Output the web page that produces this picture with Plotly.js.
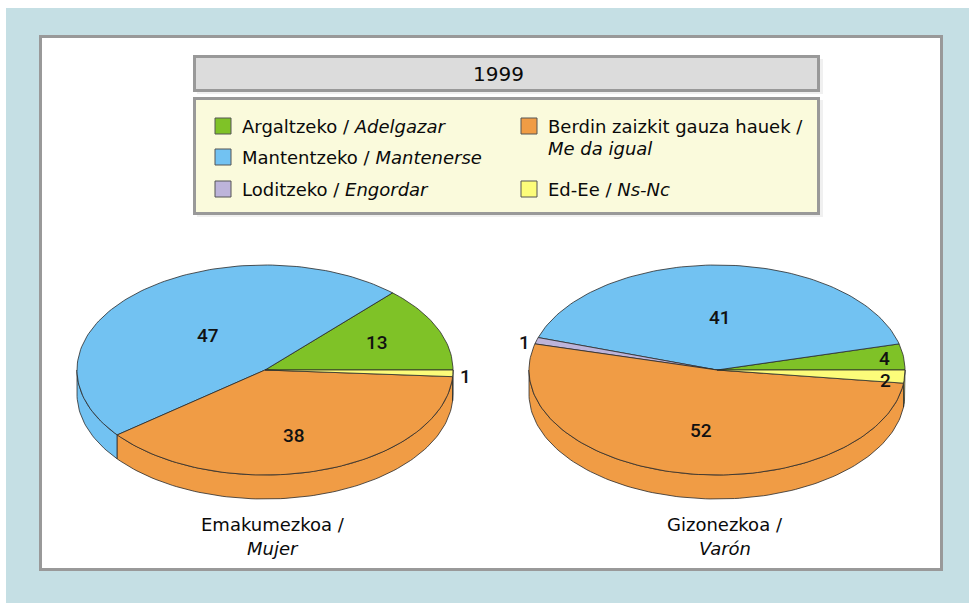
<!DOCTYPE html>
<html><head><meta charset="utf-8">
<script src="https://cdn.plot.ly/plotly-3.0.1.min.js"></script>
<style>html,body{margin:0;padding:0;background:#fff;}#chart{width:969px;height:603px;}</style>
</head><body><div id="chart"></div>
<script>
// ---------- DATA ----------
const chartTitle = '1999';
const categories = ['Argaltzeko / <i>Adelgazar</i>', 'Mantentzeko / <i>Mantenerse</i>', 'Loditzeko / <i>Engordar</i>', 'Berdin zaizkit gauza hauek /<br><i>Me da igual</i>', 'Ed-Ee / <i>Ns-Nc</i>'];
const mujerValues = [13, 47, 0, 38, 1];
const varonValues = [4, 41, 1, 52, 2];
const pieTitles = ['Emakumezkoa /<br><i>Mujer</i>', 'Gizonezkoa /<br><i>Varón</i>'];

// ---------- STYLE / LAYOUT ----------
const colors = ['#7fc227', '#72c2f2', '#bdb4da', '#f09c45', '#fcfc7a'];
const W = 969, H = 603;
const FONT = 'DejaVu Sans, sans-serif';
const pies = [
  {values: mujerValues, cx: 265, cy: 370, title: pieTitles[0]},
  {values: varonValues, cx: 717, cy: 370, title: pieTitles[1]}
];
const RX = 188, RY = 105, DEPTH = 24;
const legendSlots = [[215,126],[215,157],[215,189],[521,126],[521,189]];

const traces = [];
const annotations = [];
const shapes = [];

// backgrounds
shapes.push({type:'rect', xref:'x', yref:'y', x0:6, x1:W, y0:8, y1:H, fillcolor:'#c5dfe4', line:{width:0}, layer:'below'});
shapes.push({type:'rect', xref:'x', yref:'y', x0:40.5, x1:941.5, y0:36.5, y1:569.5, fillcolor:'#ffffff', line:{color:'#999999', width:3}, layer:'below'});
// title box (with soft shadow)
shapes.push({type:'rect', xref:'x', yref:'y', x0:197, x1:823, y0:59, y1:94, fillcolor:'rgba(0,0,0,0.06)', line:{width:0}, layer:'below'});
shapes.push({type:'rect', xref:'x', yref:'y', x0:194.5, x1:818.5, y0:56.5, y1:90.5, fillcolor:'#dcdcdc', line:{color:'#999999', width:3}, layer:'below'});
// legend box
shapes.push({type:'rect', xref:'x', yref:'y', x0:197, x1:823, y0:100, y1:217, fillcolor:'rgba(0,0,0,0.06)', line:{width:0}, layer:'below'});
shapes.push({type:'rect', xref:'x', yref:'y', x0:194.5, x1:818.5, y0:98.5, y1:213.5, fillcolor:'#fafadc', line:{color:'#999999', width:3}, layer:'below'});

annotations.push({x:498, y:73.5, xref:'x', yref:'y', text:chartTitle, showarrow:false, xanchor:'center', yanchor:'middle', font:{family:FONT, size:20, color:'#0a0a0a'}});

// legend
categories.forEach((lab, i) => {
  const [lx, ly] = legendSlots[i];
  shapes.push({type:'rect', xref:'x', yref:'y', x0:lx, x1:lx+16, y0:ly-8, y1:ly+8, fillcolor:colors[i], line:{color:'#555', width:1}});
  lab.split('<br>').forEach((line, k) => {
    annotations.push({x:lx+25, y:ly + k*22, xref:'x', yref:'y', text:line, showarrow:false, xanchor:'left', yanchor:'middle', font:{family:FONT, size:18, color:'#0a0a0a'}});
  });
});

function arcPts(cx, cy, a0, a1) {
  const n = Math.max(2, Math.ceil(Math.abs(a1 - a0) / 1.5));
  const xs = [], ys = [];
  for (let k = 0; k <= n; k++) {
    const t = (a0 + (a1 - a0) * k / n) * Math.PI / 180;
    xs.push(cx + RX * Math.cos(t));
    ys.push(cy - RY * Math.sin(t));
  }
  return [xs, ys];
}

pies.forEach(p => {
  const total = p.values.reduce((a, b) => a + b, 0);
  let acc = 0;
  const slices = p.values.map((v, i) => {
    const a0 = acc / total * 360; acc += v; const a1 = acc / total * 360;
    return {v, i, a0, a1};
  });
  // side walls (front half: 180..360)
  slices.forEach(s => {
    if (s.v <= 0) return;
    const b0 = Math.max(s.a0, 180), b1 = Math.min(s.a1, 360);
    if (b1 <= b0) return;
    const [tx, ty] = arcPts(p.cx, p.cy, b0, b1);
    const bx = tx.slice().reverse(), by = ty.slice().reverse().map(y => y + DEPTH);
    traces.push({type:'scatter', mode:'lines', x: tx.concat(bx, [tx[0]]), y: ty.concat(by, [ty[0]]), fill:'toself', fillcolor: colors[s.i], line:{color:'#2a2a2a', width:0.8}, hoverinfo:'skip', showlegend:false});
  });
  // top faces
  slices.forEach(s => {
    if (s.v <= 0) return;
    const [ax, ay] = arcPts(p.cx, p.cy, s.a0, s.a1);
    traces.push({type:'scatter', mode:'lines', x: [p.cx].concat(ax, [p.cx]), y: [p.cy].concat(ay, [p.cy]), fill:'toself', fillcolor: colors[s.i], line:{color:'#2a2a2a', width:0.8}, hoverinfo:'skip', showlegend:false});
  });
  // labels
  slices.forEach(s => {
    if (s.v <= 0) return;
    const share = s.v / total;
    const mid = (s.a0 + s.a1) / 2 * Math.PI / 180;
    const theta = (s.a1 - s.a0) * Math.PI / 180;
    let f, xa = 'center';
    if (share < 0.015) { f = 1.03; xa = Math.cos(mid) >= 0 ? 'left' : 'right'; }
    else if (share < 0.10) { f = 0.9; }
    else { f = Math.max(0.45, (2/3) * Math.sin(theta/2) / (theta/2)); }
    let x = p.cx + RX * f * Math.cos(mid);
    let y = p.cy - RY * f * Math.sin(mid);
    if (share >= 0.10) y += DEPTH * 0.6 * Math.max(0, -Math.sin(mid));
    if (share < 0.015) y += 3;
    if (share >= 0.015 && share < 0.10 && Math.sin(mid) < 0) y += 5;
    if (xa === 'left') x -= 1; if (xa === 'right') x += 1;
    annotations.push({x, y, xref:'x', yref:'y', text:String(s.v), showarrow:false, xanchor:xa, yanchor:'middle', font:{family:'Roboto, sans-serif', size:19, color:'#111', weight:500}});
  });
  // pie title
  p.title.split('<br>').forEach((line, k) => {
    annotations.push({x: p.cx + 8, y: 524 + k*24, xref:'x', yref:'y', text: line, showarrow:false, xanchor:'center', yanchor:'middle', font:{family:FONT, size:18, color:'#0a0a0a'}});
  });
});

const layout = {
  width: W, height: H, margin:{l:0, r:0, t:0, b:0},
  paper_bgcolor:'#ffffff', plot_bgcolor:'rgba(0,0,0,0)',
  xaxis:{range:[0, W], visible:false, fixedrange:true},
  yaxis:{range:[H, 0], visible:false, fixedrange:true},
  showlegend:false, shapes, annotations, hovermode:false
};
Plotly.newPlot('chart', traces, layout, {displayModeBar:false, staticPlot:true});
</script></body></html>
